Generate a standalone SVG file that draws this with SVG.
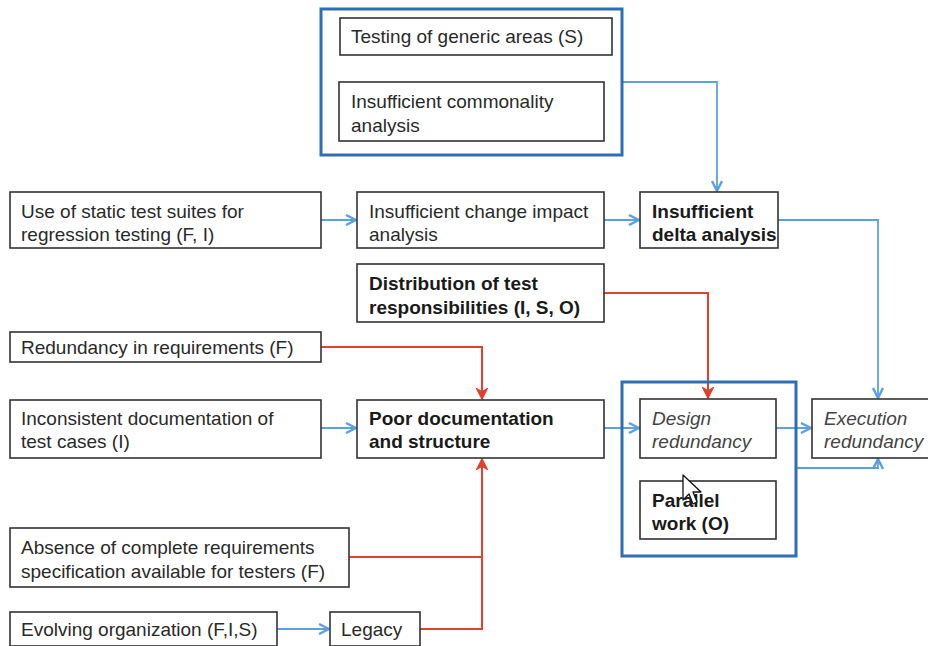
<svg xmlns="http://www.w3.org/2000/svg" width="928" height="646" viewBox="0 0 928 646">
<style>
.box{fill:#fff;stroke:#333;stroke-width:1.6}
.grp{fill:none;stroke:#2f6db5;stroke-width:3}
.t{font-family:"Liberation Sans",Arial,sans-serif;font-size:19px;fill:#2a2a2a}
.b{font-weight:bold;fill:#1a1a1a}
.i{font-style:italic;fill:#444}
.blue{fill:none;stroke:#5ba0e0;stroke-width:1.8}
.red{fill:none;stroke:#e2412e;stroke-width:2}
</style>
<defs>
<marker id="ab" viewBox="0 0 12 12" refX="11" refY="6" markerWidth="12" markerHeight="12" markerUnits="userSpaceOnUse" orient="auto">
<path d="M1,1 L11,6 L1,11" fill="none" stroke="#5ba0e0" stroke-width="2.4"/>
</marker>
<marker id="ar" viewBox="0 0 12 12" refX="11" refY="6" markerWidth="12" markerHeight="12" markerUnits="userSpaceOnUse" orient="auto">
<path d="M1,1 L11,6 L1,11 L4,6 z" fill="#e2412e" stroke="#e2412e" stroke-width="1.5"/>
</marker>
</defs>
<rect width="928" height="646" fill="#fff"/>

<g id="connectors">
<path class="blue" d="M622,82 H717 V191" marker-end="url(#ab)"/>
<path class="blue" d="M321,220 H356" marker-end="url(#ab)"/>
<path class="blue" d="M604,220 H639" marker-end="url(#ab)"/>
<path class="blue" d="M778,220 H878 V398" marker-end="url(#ab)"/>
<path class="red" d="M604,293 H708 V398" marker-end="url(#ar)"/>
<path class="red" d="M321,347 H482 V399" marker-end="url(#ar)"/>
<path class="blue" d="M321,428 H356" marker-end="url(#ab)"/>
<path class="blue" d="M604,428 H639" marker-end="url(#ab)"/>
<path class="blue" d="M776,428 H811" marker-end="url(#ab)"/>
<path class="blue" d="M796,468 H878 V459" marker-end="url(#ab)"/>
<path class="red" d="M349,557 H482"/>
<path class="red" d="M420,629 H482 V459" marker-end="url(#ar)"/>
<path class="blue" d="M277,629 H329" marker-end="url(#ab)"/>
</g>

<g id="group-top"><rect class="grp" x="321" y="9" width="301" height="146"/></g>
<g id="n-generic"><rect class="box" x="340" y="18" width="272" height="37"/><text class="t" x="351" y="43">Testing of generic areas (S)</text></g>
<g id="n-commonality"><rect class="box" x="339" y="82" width="265" height="59"/><text class="t" x="351" y="108">Insufficient commonality</text><text class="t" x="351" y="132">analysis</text></g>

<g id="n-static"><rect class="box" x="10" y="192" width="311" height="56"/><text class="t" x="21" y="218">Use of static test suites for</text><text class="t" x="21" y="241">regression testing (F, I)</text></g>
<g id="n-change"><rect class="box" x="357" y="192" width="247" height="56"/><text class="t" x="369" y="218">Insufficient change impact</text><text class="t" x="369" y="241">analysis</text></g>
<g id="n-delta"><rect class="box" x="640" y="192" width="138" height="56"/><text class="t b" x="652" y="218">Insufficient</text><text class="t b" x="652" y="241">delta analysis</text></g>

<g id="n-distribution"><rect class="box" x="357" y="264" width="247" height="58"/><text class="t b" x="369" y="290">Distribution of test</text><text class="t b" x="369" y="314">responsibilities (I, S, O)</text></g>

<g id="n-redundancy-req"><rect class="box" x="10" y="332" width="311" height="30"/><text class="t" x="21" y="354">Redundancy in requirements (F)</text></g>

<g id="n-inconsistent"><rect class="box" x="10" y="400" width="311" height="58"/><text class="t" x="21" y="425">Inconsistent documentation of</text><text class="t" x="21" y="448">test cases (I)</text></g>
<g id="n-poor"><rect class="box" x="357" y="400" width="247" height="58"/><text class="t b" x="369" y="425">Poor documentation</text><text class="t b" x="369" y="448">and structure</text></g>

<g id="group-bottom"><rect class="grp" x="622" y="382" width="174" height="174"/></g>
<g id="n-design"><rect class="box" x="640" y="399" width="136" height="59"/><text class="t i" x="652" y="425">Design</text><text class="t i" x="652" y="448">redundancy</text></g>
<g id="n-parallel"><rect class="box" x="640" y="481" width="136" height="58"/><text class="t b" x="652" y="507">Parallel</text><text class="t b" x="652" y="530">work (O)</text></g>
<g id="n-execution"><rect class="box" x="812" y="399" width="130" height="59"/><text class="t i" x="824" y="425">Execution</text><text class="t i" x="824" y="448">redundancy</text></g>

<g id="n-absence"><rect class="box" x="10" y="528" width="339" height="59"/><text class="t" x="21" y="554">Absence of complete requirements</text><text class="t" x="21" y="578">specification available for testers (F)</text></g>
<g id="n-evolving"><rect class="box" x="10" y="612" width="267" height="34"/><text class="t" x="21" y="636">Evolving organization (F,I,S)</text></g>
<g id="n-legacy"><rect class="box" x="330" y="612" width="90" height="34"/><text class="t" x="341" y="636">Legacy</text></g>

<path d="M683,475 L683,500 L689,494 L693,504 L697,502 L693,492 L701,492 Z" fill="#fff" stroke="#111" stroke-width="1.3" stroke-linejoin="round"/>
</svg>
